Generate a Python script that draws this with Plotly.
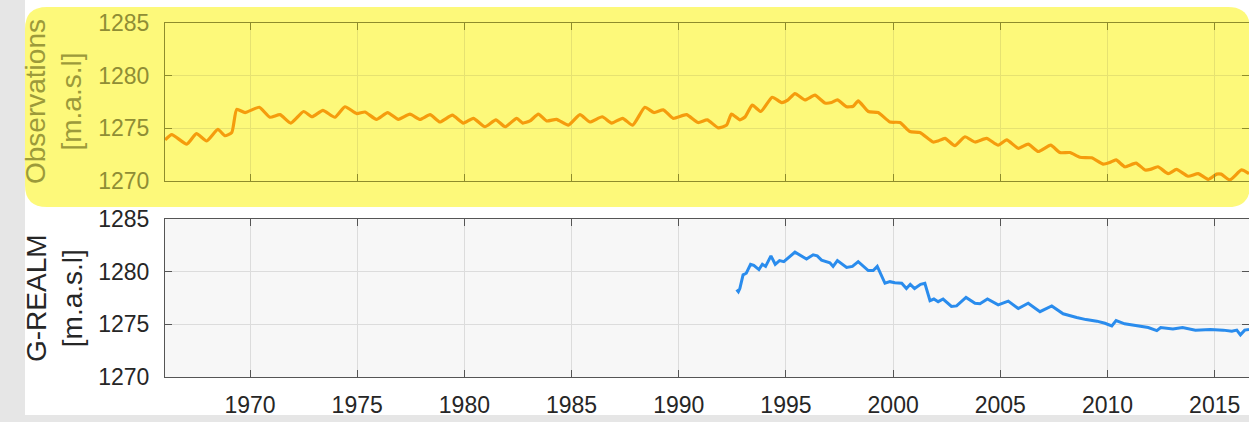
import plotly.graph_objects as go

# Lake level observations (decimal year, metres above sea level)
obs_year = [1966.04, 1966.35, 1967.05, 1967.5, 1967.98, 1968.5, 1968.83, 1969.15, 1969.38, 1969.77,
            1970.43, 1970.93, 1971.4, 1971.9, 1972.5, 1972.9, 1973.4, 1973.96, 1974.43, 1974.98,
            1975.36, 1975.9, 1976.42, 1976.92, 1977.46, 1977.93, 1978.4, 1978.86, 1979.44, 1979.95,
            1980.42, 1980.96, 1981.47, 1981.9, 1982.44, 1982.72, 1983.06, 1983.45, 1983.84, 1984.3,
            1984.85, 1985.39, 1985.86, 1986.43, 1986.87, 1987.38, 1987.85, 1988.42, 1988.84, 1989.28,
            1989.74, 1990.36, 1990.9, 1991.33, 1991.84, 1992.23, 1992.46, 1992.85, 1993.1, 1993.43,
            1993.83, 1994.36, 1994.8, 1995.1, 1995.42, 1995.89, 1996.35, 1996.82, 1997.13, 1997.4,
            1997.83, 1998.14, 1998.37, 1998.84, 1999.3, 1999.85, 2000.32, 2000.78, 2001.25, 2001.87,
            2002.1, 2002.42, 2002.88, 2003.35, 2003.82, 2004.36, 2004.9, 2005.3, 2005.84, 2006.3,
            2006.77, 2007.35, 2007.78, 2008.25, 2008.71, 2009.26, 2009.8, 2010.1, 2010.4, 2010.81,
            2011.33, 2011.75, 2012.0, 2012.35, 2012.83, 2013.22, 2013.76, 2014.23, 2014.7, 2015.09,
            2015.3, 2015.71, 2016.25, 2016.6]
obs_level = [1273.9, 1274.4, 1273.5, 1274.5, 1273.8, 1274.9, 1274.3, 1274.6, 1276.8, 1276.5,
             1277.0, 1276.05, 1276.3, 1275.5, 1276.6, 1276.1, 1276.7, 1276.05, 1277.05, 1276.4,
             1276.55, 1275.85, 1276.5, 1275.85, 1276.35, 1275.85, 1276.3, 1275.6, 1276.25, 1275.5,
             1275.95, 1275.15, 1275.8, 1275.15, 1275.95, 1275.5, 1275.7, 1276.35, 1275.7, 1275.85,
             1275.3, 1276.3, 1275.6, 1276.1, 1275.5, 1275.95, 1275.3, 1277.0, 1276.5, 1276.75,
             1275.95, 1276.3, 1275.55, 1275.8, 1275.05, 1275.3, 1276.35, 1275.8, 1276.1, 1277.2,
             1276.6, 1277.95, 1277.45, 1277.7, 1278.3, 1277.7, 1278.15, 1277.4, 1277.45, 1277.7,
             1277.05, 1277.1, 1277.6, 1276.6, 1276.5, 1275.6, 1275.55, 1274.7, 1274.6, 1273.7,
             1273.8, 1274.05, 1273.35, 1274.2, 1273.7, 1274.05, 1273.4, 1273.9, 1273.1, 1273.5,
             1272.8, 1273.4, 1272.7, 1272.7, 1272.25, 1272.2, 1271.6, 1271.75, 1272.0, 1271.35,
             1271.7, 1271.05, 1271.1, 1271.35, 1270.7, 1271.1, 1270.45, 1270.7, 1270.15, 1270.65,
             1270.65, 1270.1, 1271.05, 1270.7]

# G-REALM satellite altimetry (decimal year, metres above sea level)
gr_year = [1992.7, 1992.78, 1992.85, 1993.0, 1993.15, 1993.35, 1993.5, 1993.74, 1993.9, 1994.05,
           1994.3, 1994.5, 1994.7, 1994.9, 1995.42, 1995.96, 1996.27, 1996.46, 1996.66, 1997.05,
           1997.2, 1997.4, 1997.83, 1998.1, 1998.37, 1998.84, 1999.07, 1999.26, 1999.62, 1999.85,
           2000.08, 2000.4, 2000.62, 2000.8, 2001.0, 2001.28, 2001.48, 2001.72, 2001.9, 2002.1,
           2002.33, 2002.72, 2002.96, 2003.4, 2003.82, 2004.05, 2004.4, 2004.9, 2005.37, 2005.84,
           2006.3, 2006.85, 2007.4, 2007.93, 2008.56, 2009.0, 2009.5, 2009.88, 2010.2, 2010.4,
           2010.8, 2011.36, 2011.9, 2012.3, 2012.48, 2013.05, 2013.5, 2014.1, 2014.8, 2015.4,
           2015.8, 2016.03, 2016.2, 2016.4, 2016.6]
gr_level = [1278.3, 1278.1, 1278.4, 1279.7, 1279.85, 1280.7, 1280.6, 1280.2, 1280.7, 1280.5,
            1281.5, 1280.7, 1281.05, 1280.95, 1281.85, 1281.2, 1281.6, 1281.5, 1281.1, 1280.85,
            1280.5, 1281.05, 1280.4, 1280.5, 1280.95, 1280.1, 1280.1, 1280.5, 1278.9, 1279.05,
            1278.95, 1278.9, 1278.4, 1278.8, 1278.4, 1278.8, 1278.9, 1277.25, 1277.4, 1277.15,
            1277.4, 1276.7, 1276.75, 1277.55, 1277.0, 1276.95, 1277.4, 1276.85, 1277.2, 1276.5,
            1277.0, 1276.2, 1276.75, 1276.0, 1275.65, 1275.45, 1275.3, 1275.1, 1274.85, 1275.35,
            1275.05, 1274.85, 1274.7, 1274.4, 1274.7, 1274.55, 1274.7, 1274.45, 1274.5, 1274.45,
            1274.35, 1274.45, 1274.0, 1274.45, 1274.5]

x_ticks = [1970, 1975, 1980, 1985, 1990, 1995, 2000, 2005, 2010, 2015]
y_ticks = [1270, 1275, 1280, 1285]

W, H = 1249, 422
FONT = "Liberation Sans, Arial, sans-serif"


def px(x):
    return x / W


def py(y):
    return 1 - y / H


OLIVE = "#8e8c2c"
OLIVE_TXT = "#8f8d35"
YELLOW = "#fdf97a"
DARK = "#262626"

fig = go.Figure()
fig.add_trace(go.Scatter(x=obs_year, y=obs_level, mode="lines",
                         line=dict(color="#f59c0d", width=3.2, shape="spline", smoothing=0.5),
                         xaxis="x", yaxis="y", showlegend=False))
fig.add_trace(go.Scatter(x=gr_year, y=gr_level, mode="lines",
                         line=dict(color="#2a8ced", width=3), xaxis="x2", yaxis="y2",
                         showlegend=False))

x_range = [1966.035, 2016.6]
common_x = dict(range=x_range, tickvals=x_ticks, ticks="inside", ticklen=7, showline=True,
                mirror="allticks", showgrid=True, zeroline=False, automargin=False)
common_y = dict(range=[1270, 1285], tickvals=y_ticks, ticks="inside", ticklen=7, showline=True,
                mirror="allticks", showgrid=True, zeroline=False, automargin=False,
                ticklabelstandoff=10)

fig.update_layout(
    width=W, height=H,
    margin=dict(l=0, r=0, t=0, b=0),
    paper_bgcolor="#e6e6e6",
    plot_bgcolor="rgba(0,0,0,0)",
    font=dict(family=FONT, size=23, color=DARK),
    xaxis=dict(common_x, domain=[px(165), 1], anchor="y", showticklabels=False,
               linecolor=OLIVE, tickcolor=OLIVE, gridcolor="#e6e271", linewidth=1.2),
    yaxis=dict(common_y, domain=[py(181), py(23)], anchor="x",
               linecolor=OLIVE, tickcolor=OLIVE, gridcolor="#e6e271", linewidth=1.2,
               tickfont=dict(color=OLIVE_TXT, size=23)),
    xaxis2=dict(common_x, domain=[px(165), 1], anchor="y2", ticklabelstandoff=7,
                linecolor="#555555", tickcolor="#555555", gridcolor="#dcdcdc", linewidth=1.2,
                tickfont=dict(color=DARK, size=23)),
    yaxis2=dict(common_y, domain=[py(377), py(219)], anchor="x2",
                linecolor="#555555", tickcolor="#555555", gridcolor="#dcdcdc", linewidth=1.2,
                tickfont=dict(color=DARK, size=23)),
)

# White figure area, highlighted panel and light plot background
r = 22
x0, x1, y0, y1 = 25, 1250, 7, 207
path = (f"M {px(x0 + r)},{py(y0)} L {px(x1 - r)},{py(y0)} Q {px(x1)},{py(y0)} {px(x1)},{py(y0 + r)} "
        f"L {px(x1)},{py(y1 - r)} Q {px(x1)},{py(y1)} {px(x1 - r)},{py(y1)} "
        f"L {px(x0 + r)},{py(y1)} Q {px(x0)},{py(y1)} {px(x0)},{py(y1 - r)} "
        f"L {px(x0)},{py(y0 + r)} Q {px(x0)},{py(y0)} {px(x0 + r)},{py(y0)} Z")
fig.add_shape(type="rect", xref="paper", yref="paper", x0=px(25), x1=1, y0=py(415), y1=1,
              fillcolor="white", line_width=0, layer="below")
fig.add_shape(type="path", xref="paper", yref="paper", path=path,
              fillcolor=YELLOW, line_width=0, layer="below")
fig.add_shape(type="rect", xref="paper", yref="paper", x0=px(165), x1=1, y0=py(377), y1=py(219),
              fillcolor="#f7f7f7", line_width=0, layer="below")

fig.add_annotation(text="Observations<br>[m.a.s.l]", xref="paper", yref="paper",
                   x=px(54), y=py(102), xanchor="center", yanchor="middle", textangle=-90,
                   showarrow=False, font=dict(family=FONT, size=28, color="#9c9a3a"))
fig.add_annotation(text="G-REALM<br>[m.a.s.l]", xref="paper", yref="paper",
                   x=px(54), y=py(298), xanchor="center", yanchor="middle", textangle=-90,
                   showarrow=False, font=dict(family=FONT, size=28, color=DARK))

fig.write_html("out.html")
